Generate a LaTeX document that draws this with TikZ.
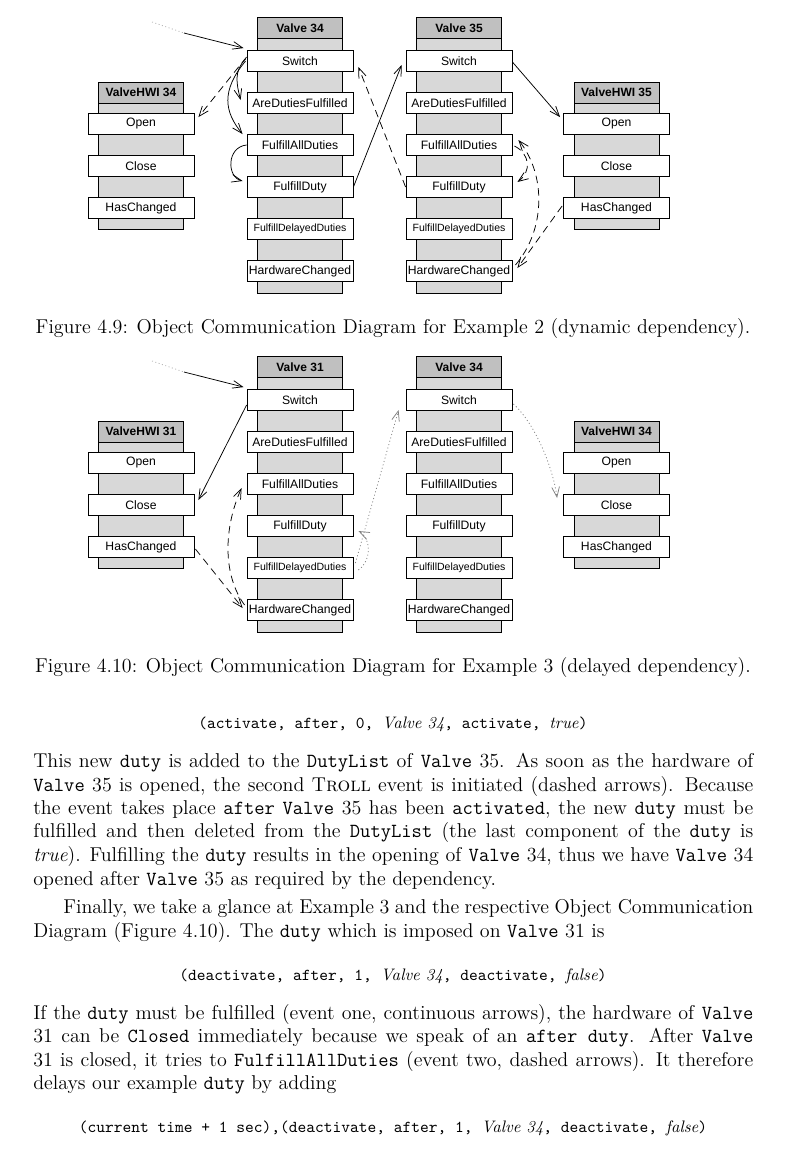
\documentclass[tikz,border=0pt]{standalone}
\usepackage{fontspec}
\usetikzlibrary{arrows.meta,calc}
\newfontfamily\dsf{Liberation Sans}
\definecolor{headgray}{RGB}{192,192,192}
\definecolor{colgray}{RGB}{216,216,216}
\tikzset{
  colbox/.style={draw, fill=colgray, minimum width=51pt, inner sep=0pt, line width=0.5pt},
  headbox/.style={draw, fill=headgray, minimum width=51pt, minimum height=13pt, inner sep=0pt, line width=0.5pt, font=\dsf\bfseries\fontsize{7.2}{8}\selectfont},
  meth/.style={draw, fill=white, minimum width=63.6pt, minimum height=12.6pt, inner sep=0pt, line width=0.5pt, font=\dsf\fontsize{7.3}{8}\selectfont},
  methsmall/.style={meth, font=\dsf\fontsize{6.3}{7}\selectfont},
  arr/.style={-{Straight Barb[length=6pt,width=4.6pt]}, line width=0.45pt},
  dsh/.style={arr, dash pattern=on 4.5pt off 3pt},
  dtt/.style={arr, gray, dash pattern=on 0.6pt off 1.5pt},
  fade/.style={gray!60, line width=0.45pt, dash pattern=on 0.6pt off 1.5pt},
  body/.style={anchor=base west, inner sep=0pt, font=\fontsize{12}{14.5}\selectfont},
  disp/.style={anchor=base, inner sep=0pt, font=\fontsize{10}{12}\selectfont},
  capt/.style={anchor=base, inner sep=0pt, font=\fontsize{12}{14.5}\selectfont}
}
\newcommand{\ValveObj}[4]{%
  \node[colbox, minimum height=165.6pt] (#1) at (#2,{#3+138}) {};
  \node[headbox] (#1-head) at (#2,{#3+11}) {#4};
  \node[meth] (#1-sw) at (#2,{#3+44}) {Switch};
  \node[meth] (#1-adf) at (#2,{#3+86}) {AreDutiesFulfilled};
  \node[meth] (#1-fad) at (#2,{#3+128}) {FulfillAllDuties};
  \node[meth] (#1-fd) at (#2,{#3+170}) {FulfillDuty};
  \node[methsmall] (#1-fdd) at (#2,{#3+212}) {FulfillDelayedDuties};
  \node[meth] (#1-hc) at (#2,{#3+254}) {HardwareChanged};
}
\newcommand{\HwiObj}[4]{%
  \node[colbox, minimum height=88.2pt] (#1) at (#2,{#3+73.5}) {};
  \node[headbox, minimum height=12.6pt] (#1-head) at (#2,{#3+10.5}) {#4};
  \node[meth] (#1-op) at (#2,{#3+42}) {Open};
  \node[meth] (#1-cl) at (#2,{#3+84}) {Close};
  \node[meth] (#1-hc) at (#2,{#3+126}) {HasChanged};
}
\begin{document}
\begin{tikzpicture}[x=0.6pt,y=-0.6pt]
\useasboundingbox (0,0) rectangle (786,1169);
\fill[white] (0,0) rectangle (786,1169);

% ---------- Figure 4.9 ----------
\ValveObj{v34}{300}{17}{Valve 34}
\ValveObj{v35}{459}{17}{Valve 35}
\HwiObj{h34}{141}{82}{ValveHWI 34}
\HwiObj{h35}{616.5}{82}{ValveHWI 35}

\coordinate (s1) at (152,22);
\coordinate (s1b) at (184,33);
\draw[fade] (s1) -- (s1b);
\draw[arr] (s1b) -- ($(v34-sw.north west)+(-3,-2)$);
\draw[dsh] ($(v34-sw.west)+(0,-4)$) -- ($(h34-op.north east)+(4,4)$);
\draw[arr] ($(v34-sw.west)+(-1,-2)$) .. controls +(-12,12) and +(-4,-16) .. ($(v34-adf.west)+(-6,-3)$);
\draw[arr] ($(v34-sw.west)+(-1,0)$) .. controls +(-25,30) and +(-18,-22) .. ($(v34-fad.north west)+(-4,0)$);
\draw[arr] (v34-fad.west) .. controls +(-20,2) and +(-16,-4) .. ($(v34-fd.west)+(-4,-6)$);
\draw[arr] (v34-fd.east) -- ($(v35-sw.west)+(-4,4)$);
\draw[dsh] (v35-fd.west) -- ($(v34-sw.east)+(5,6)$);
\draw[arr] ($(v35-sw.east)+(0,1)$) -- ($(h35-op.north west)+(-3,4)$);
\draw[dsh] ($(h35-hc.west)+(-1,-2)$) -- ($(v35-hc.east)+(5,-3)$);
\draw[dsh] ($(v35-hc.east)+(3,-6)$) .. controls +(30,-35) and +(28,35) .. ($(v35-fad.east)+(6,-5)$);
\draw[dsh] ($(v35-fad.east)+(2,1)$) .. controls +(16,8) and +(14,-10) .. ($(v35-fd.east)+(5,-5)$);

\node[capt] (cap1) at (393,333) {Figure 4.9: Object Communication Diagram for Example 2 (dynamic dependency).};

% ---------- Figure 4.10 ----------
\ValveObj{w31}{300}{356}{Valve 31}
\ValveObj{w34}{459}{356}{Valve 34}
\HwiObj{g31}{141}{421}{ValveHWI 31}
\HwiObj{g34}{616.5}{421}{ValveHWI 34}

\coordinate (s2) at (152,361);
\coordinate (s2b) at (184,372);
\draw[fade] (s2) -- (s2b);
\draw[arr] (s2b) -- ($(w31-sw.north west)+(-3,-2)$);
\draw[arr] ($(w31-sw.west)+(0,5)$) -- ($(g31-cl.east)+(4,-5)$);
\draw[dsh] ($(g31-hc.east)+(1,2)$) -- ($(w31-hc.west)+(-4,-2)$);
\draw[dsh] ($(w31-hc.west)+(-2,-5)$) .. controls +(-22,-30) and +(-18,40) .. ($(w31-fad.west)+(-5,4)$);
\draw[dtt] ($(w31-fdd.east)+(2,-5)$) -- ($(w34-sw.west)+(-7,10)$);
\draw[dtt] ($(w31-fdd.east)+(5,2)$) .. controls +(14,-10) and +(12,6) .. ($(w31-fd.east)+(5,5)$);
\draw[dtt] ($(w34-sw.east)+(1,4)$) .. controls +(22,20) and +(-4,-30) .. ($(g34-cl.west)+(-6,-7)$);

\node[capt] (cap2) at (393,672) {Figure 4.10: Object Communication Diagram for Example 3 (delayed dependency).};

% ---------- Text ----------
\node[disp] (d1) at (393,728) {\ttfamily (activate, after, 0, \textrm{\textit{Valve 34}}, activate, \textrm{\textit{true}})};

\node[body] (l1) at (33,767) {\makebox[432pt][s]{This new \texttt{duty} is added to the \texttt{DutyList} of \texttt{Valve} 35. As soon as the hardware of}};
\node[body] (l2) at (33,791) {\makebox[432pt][s]{\texttt{Valve} 35 is opened, the second T\textsc{roll} event is initiated (dashed arrows). Because}};
\node[body] (l3) at (33,814) {\makebox[432pt][s]{the event takes place \texttt{after} \texttt{Valve} 35 has been \texttt{activated}, the new \texttt{duty} must be}};
\node[body] (l4) at (33,837) {\makebox[432pt][s]{fulfilled and then deleted from the \texttt{DutyList} (the last component of the \texttt{duty} is}};
\node[body] (l5) at (33,861) {\makebox[432pt][s]{\textit{true}). Fulfilling the \texttt{duty} results in the opening of \texttt{Valve} 34, thus we have \texttt{Valve} 34}};
\node[body] (l6) at (33,885) {opened after \texttt{Valve} 35 as required by the dependency.};
\node[body] (l7) at (63,913) {\makebox[414pt][s]{Finally, we take a glance at Example 3 and the respective Object Communication}};
\node[body] (l8) at (33,937) {Diagram (Figure 4.10). The \texttt{duty} which is imposed on \texttt{Valve} 31 is};

\node[disp] (d2) at (393,980) {\ttfamily (deactivate, after, 1, \textrm{\textit{Valve 34}}, deactivate, \textrm{\textit{false}})};

\node[body] (l9) at (33,1019) {\makebox[432pt][s]{If the \texttt{duty} must be fulfilled (event one, continuous arrows), the hardware of \texttt{Valve}}};
\node[body] (l10) at (33,1042) {\makebox[432pt][s]{31 can be \texttt{Closed} immediately because we speak of an \texttt{after duty}. After \texttt{Valve}}};
\node[body] (l11) at (33,1066) {\makebox[432pt][s]{31 is closed, it tries to \texttt{FulfillAllDuties} (event two, dashed arrows). It therefore}};
\node[body] (l12) at (33,1089) {delays our example \texttt{duty} by adding};

\node[disp] (d3) at (393,1132) {\ttfamily (current time + 1 sec),(deactivate, after, 1, \textrm{\textit{Valve 34}}, deactivate, \textrm{\textit{false}})};
\end{tikzpicture}
\end{document}
